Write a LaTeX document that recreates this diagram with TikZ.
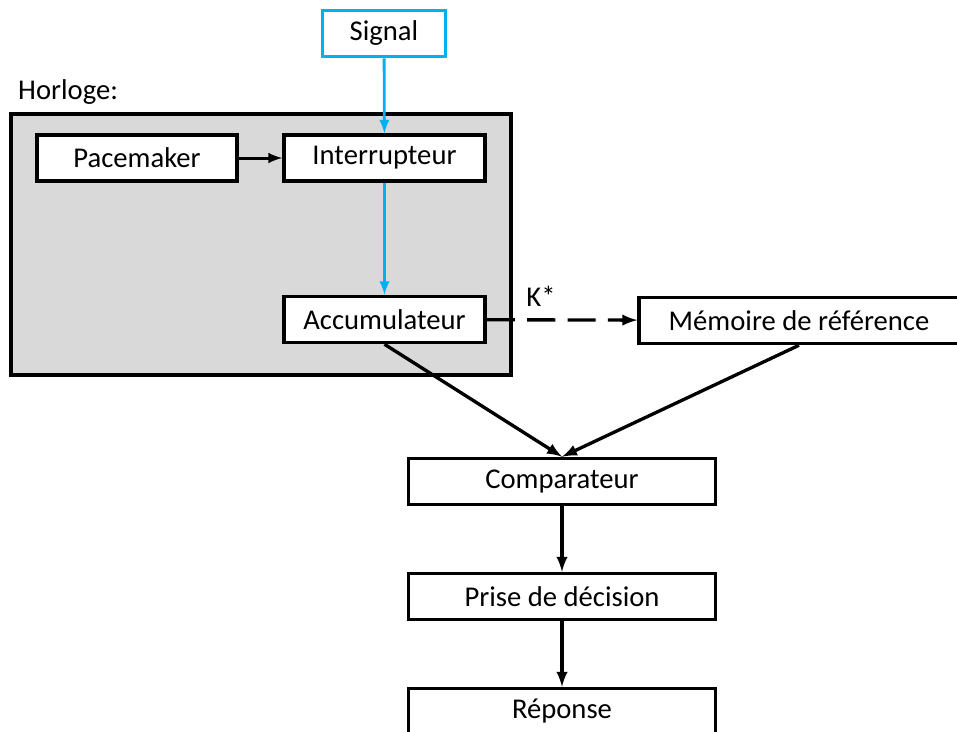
\documentclass[tikz,border=0pt]{standalone}
\usepackage{fontspec}
\setmainfont{Carlito}
\usetikzlibrary{arrows}
\definecolor{signalblue}{RGB}{0,176,240}
\definecolor{clockgray}{RGB}{217,217,217}

\begin{document}
\begin{tikzpicture}[x=0.02cm,y=-0.02cm,
  font=\fontsize{16.3pt}{19pt}\selectfont,
  box/.style={draw,fill=white,line width=2pt,inner sep=0pt,minimum height=0.92cm}]
\useasboundingbox (0,0) rectangle (957,731);

\node[draw=signalblue,line width=2pt,fill=white,inner sep=0pt,minimum width=2.46cm,minimum height=0.92cm] (signal) at (384,33.5) {Signal};

\node[anchor=west] (horlogelabel) at (12,92) {Horloge:};
\node[draw,fill=clockgray,line width=2pt,minimum width=10.0cm,minimum height=5.22cm,inner sep=0pt] (horloge) at (261,244.5) {};

\node[box,minimum width=4.0cm] (pace) at (137,158) {Pacemaker};
\node[box,minimum width=4.02cm] (inter) at (384.5,158) {Interrupteur};
\node[box,minimum width=4.02cm] (accu) at (384.5,319.5) {Accumulateur};
\node[box,minimum width=6.4cm] (memoire) at (799,320.5) {Mémoire de référence};

\node[box,minimum width=6.14cm] (comp) at (562,481.5) {Comparateur};
\node[box,minimum width=6.14cm] (decision) at (562,596.5) {Prise de décision};
\node[box,minimum width=6.14cm] (reponse) at (562,711.5) {Réponse};

\node (k) at (541,296) {K*};

\draw[-latex,line width=1.7pt] (pace) -- (inter);
\draw[-latex,signalblue,line width=1.6pt] (signal) -- (inter);
\draw[-latex,signalblue,line width=1.6pt] (inter) -- (accu);
\draw[-latex,line width=1.9pt,dash pattern=on 16pt off 7pt] (accu) -- (memoire);

\draw[-latex,line width=1.9pt] (accu.south) -- (comp.north);
\draw[-latex,line width=1.9pt] (memoire.south) -- (comp.north);
\draw[-latex,line width=1.9pt] (comp) -- (decision);
\draw[-latex,line width=1.9pt] (decision) -- (reponse);

\end{tikzpicture}
\end{document}
